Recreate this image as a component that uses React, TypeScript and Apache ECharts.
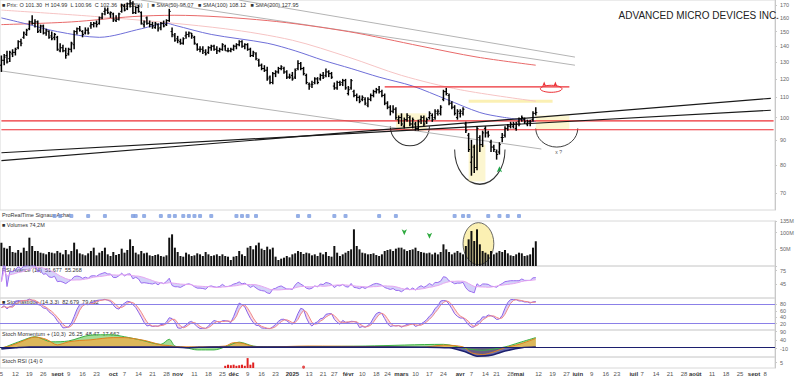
import { useEffect, useRef } from "react";
import * as echarts from "echarts";

// ---------- calendar ----------
const START_DATE = "2024-08-05";
const CATEGORY_COUNT = 277;
const HOLIDAYS = ["2024-09-02", "2024-11-28", "2024-12-25", "2025-01-01", "2025-01-09", "2025-01-20", "2025-02-17", "2025-04-18", "2025-05-26", "2025-06-19", "2025-07-04", "2025-09-01"];
const MONTH_LABELS = ["janv", "févr", "mars", "avr", "mai", "juin", "juil", "août", "sept", "oct", "nov", "déc"];

// ---------- price data: [open, high, low, close] ----------
const ohlc: number[][] = [
  [128, 134, 124, 131], [131, 135, 128, 133], [134, 137, 129, 130], [132, 137, 130, 136], [135, 138, 133, 136],
  [136, 139, 134, 138], [139, 144, 138, 143], [143, 145, 140, 142], [146, 150, 145, 149], [148, 152, 147, 151],
  [152, 158, 151, 157], [157, 162, 155, 156], [156, 159, 153, 157], [157, 158, 149, 150], [151, 155, 149, 154],
  [154, 155, 148, 149], [149, 152, 147, 151], [150, 151, 145, 146], [147, 150, 144, 145], [146, 149, 144, 148],
  [146, 147, 137, 138], [137, 142, 136, 139], [139, 141, 136, 137], [137, 139, 132, 134], [135, 139, 134, 138],
  [138, 143, 136, 142], [141, 151, 138, 150], [150, 153, 148, 152], [152, 154, 150, 151], [150, 151, 146, 148],
  [149, 153, 148, 151], [151, 153, 148, 149], [154, 157, 152, 155], [155, 157, 153, 156], [156, 158, 153, 155],
  [156, 161, 155, 160], [160, 164, 159, 163], [165, 168, 162, 166], [166, 168, 163, 164], [163, 165, 160, 164],
  [163, 164, 157, 159], [158, 162, 157, 159], [159, 164, 158, 163], [165, 171, 164, 170], [169, 171, 165, 166],
  [167, 172, 166, 171], [171, 174, 168, 172], [171, 173, 163, 164], [164, 169, 163, 168], [168, 170, 164, 165],
  [164, 165, 155, 156], [155, 158, 153, 157], [160, 161, 155, 156], [156, 158, 153, 155], [155, 157, 152, 154],
  [153, 157, 152, 156], [155, 156, 150, 152], [153, 157, 151, 156], [156, 158, 153, 154], [155, 159, 154, 158],
  [158, 167, 157, 165], [150, 153, 146, 148], [147, 149, 143, 144],
  [145, 147, 142, 144], [143, 145, 141, 142], [142, 146, 141, 145], [147, 150, 145, 148], [148, 150, 146, 149],
  [149, 149, 145, 147], [146, 147, 141, 142], [141, 142, 137, 138], [138, 140, 136, 138], [138, 140, 135, 137],
  [136, 138, 134, 135], [136, 140, 135, 139], [139, 141, 137, 140], [140, 141, 137, 138], [138, 140, 135, 137],
  [137, 139, 136, 138], [138, 142, 137, 141], [140, 141, 137, 137], [137, 139, 136, 137], [137, 139, 136, 138],
  [138, 141, 137, 140], [140, 142, 138, 141], [141, 144, 140, 143], [143, 144, 139, 140], [140, 142, 138, 141],
  [141, 142, 137, 138], [138, 139, 133, 134], [134, 137, 133, 136], [135, 136, 131, 132], [131, 132, 127, 128],
  [128, 129, 125, 126], [126, 128, 124, 125], [125, 127, 119, 120], [121, 122, 117, 118], [118, 124, 117, 123],
  [123, 125, 121, 124], [124, 127, 123, 126], [126, 128, 125, 127], [126, 127, 123, 124], [124, 125, 120, 121],
  [121, 123, 120, 121],
  [122, 124, 119, 120], [121, 126, 120, 125], [126, 131, 125, 129], [129, 130, 125, 126], [126, 127, 122, 123],
  [122, 123, 117, 118], [117, 118, 114, 116], [117, 119, 115, 117], [118, 121, 117, 120], [120, 121, 117, 118],
  [120, 123, 119, 122], [122, 124, 120, 121], [122, 126, 121, 124], [124, 125, 121, 123], [123, 124, 120, 121],
  [116, 118, 114, 115], [115, 119, 114, 118], [118, 119, 116, 117], [118, 120, 116, 119], [119, 120, 114, 115],
  [112, 116, 111, 114], [115, 120, 114, 119], [113, 114, 110, 111], [111, 112, 108, 110], [110, 111, 107, 108],
  [109, 111, 108, 110], [109, 110, 106, 107], [106, 110, 105, 109], [109, 112, 108, 111], [111, 114, 110, 113],
  [113, 115, 112, 114], [114, 116, 112, 113], [113, 114, 110, 111], [111, 112, 106, 107], [107, 108, 104, 105],
  [105, 106, 101, 103], [103, 106, 102, 104], [104, 105, 99, 100], [99, 101, 97, 100],
  [100, 102, 96, 97], [96, 100, 95, 99], [99, 102, 98, 101], [100, 101, 96, 97], [97, 100, 95, 99],
  [97, 98, 94, 95], [95, 99, 94, 98], [99, 101, 97, 100], [100, 101, 96, 97], [98, 100, 97, 99],
  [100, 103, 99, 102], [101, 102, 98, 99], [100, 104, 99, 103], [102, 104, 101, 103], [102, 106, 101, 105],
  [109, 114, 108, 113], [113, 115, 111, 112], [111, 112, 106, 107], [107, 108, 104, 105], [105, 106, 101, 102],
  [100, 104, 99, 103],
  [102, 104, 100, 103], [102, 105, 101, 104], [97, 98, 93, 94], [92, 93, 85, 86], [81, 90, 76, 83],
  [87, 88, 77, 79], [79, 96, 78, 95], [91, 92, 85, 88], [88, 94, 87, 93], [95, 96, 91, 93],
  [93, 94, 91, 92], [89, 90, 85, 87], [87, 88, 85, 86], [85, 86, 82, 84], [85, 89, 84, 88],
  [91, 93, 89, 91], [92, 96, 91, 95], [95, 97, 94, 96], [96, 98, 95, 97], [96, 98, 95, 97],
  [95, 98, 94, 97],
  [98, 100, 96, 97], [99, 101, 98, 100], [99, 100, 97, 98], [97, 99, 96, 98], [98, 99, 96, 98],
  [99, 103, 98, 102], [102, 105, 101, 102.36],
];

// volume, millions
const volumes: number[] = [
  70, 55, 52, 60, 42, 40, 48, 40, 55, 45, 85, 60, 45, 45, 40, 38, 35, 42, 40, 38,
  45, 40, 35, 48, 35, 45, 70, 50, 38, 35, 32, 38, 45, 55, 32, 40, 45, 55, 35, 30,
  42, 33, 36, 52, 40, 48, 80, 60, 40, 35, 45, 38, 40, 32, 30, 33, 35, 30, 28, 32, 85, 95, 55,
  42, 30, 28, 40, 35, 30, 32, 38, 35, 30, 42, 35, 30, 32, 35, 30, 35, 30, 28, 18,
  28, 30, 45, 35, 30, 55, 60, 50, 62, 70, 52, 48, 58, 50, 55, 28, 18, 22, 25, 30, 26,
  35, 38, 45, 42, 36, 40, 38, 32, 35, 30, 40, 35, 42, 30, 28, 60, 40, 30, 35, 40,
  45, 50, 110, 60, 50, 40, 38, 35, 36, 38, 33, 30, 35, 45, 48, 50, 45, 52, 55,
  55, 50, 45, 48, 50, 55, 45, 42, 40, 38, 40, 35, 40, 35, 42, 65, 50, 42, 35, 40, 45,
  40, 35, 60, 80, 105, 75, 110, 65, 45, 40, 35, 45, 35, 40, 45, 42, 48, 38, 32, 30, 35,
  40, 38, 30, 32, 35, 55, 74.2,
];

// moving averages: [category index, value]
const sma50: number[][] = [[0, 160], [8, 156], [20, 150], [35, 146], [50, 152], [59, 156], [62, 154.5], [75, 148], [95, 142], [105, 137], [115, 131], [125, 126], [135, 121], [147, 116], [159, 109], [171, 102.4], [179, 100.2], [191, 98.1]];
const sma100: number[][] = [[0, 166], [40, 160], [80, 152], [104, 144], [124, 133], [143, 122], [164, 114], [191, 108]];
const sma200: number[][] = [[0, 155], [25, 157], [47, 161], [62, 162], [95, 158], [124, 150], [150, 140], [170, 133], [191, 128]];

// drawn lines / zones on price: [[i0, p0], [i1, p1]]
const trendBlack: number[][][] = [[[0, 81.6], [275, 109.5]], [[0, 84.7], [275, 103.5]]];
const trendGray: number[][][] = [[[0, 124.6], [193, 86.2]], [[50, 174], [205, 128]], [[85, 174], [205, 133]]];
const supportLevels = [98.4, 94.4];
const resistanceSeg = { i0: 137, i1: 203, p: 115.6 };
const zones: number[][][] = [[[141, 102], [152, 94]], [[167, 88], [173, 74]], [[191, 101], [203, 94.5]]];
const yellowBand = { i0: 167, i1: 197, p: 108 };
const cups = [
  { i0: 139, i1: 153, top: 96, bottom: 87.5 },
  { i0: 162, i1: 180, top: 86, bottom: 73 },
  { i0: 191, i1: 206, top: 95, bottom: 87 },
];

// panel 3 oscillator samples and panel 4 bars
const oscOrange: number[][] = [[0, -5], [3, 5], [7, 30], [12, 58], [16, 45], [20, 12], [24, 30], [28, 38], [32, 42], [36, 50], [40, 55], [44, 55], [47, 50], [52, 35], [57, 12], [60, 8], [62, 2], [70, 0], [80, 5], [83, 25], [86, 22], [90, 3], [95, 0], [110, 5], [130, 2], [150, -3], [158, 10], [165, 0], [168, -35], [172, -45], [176, -30], [180, -5], [185, 15], [191, 50]];
const oscGreen: number[][] = [[0, -10], [7, 35], [12, 60], [18, 30], [24, 35], [32, 70], [39, 72], [44, 60], [50, 40], [57, 15], [60, 45], [62, 5], [66, -5], [70, -18], [76, -18], [80, 0], [85, 28], [90, 5], [95, 0], [130, 5], [158, 15], [166, -10], [172, -20], [180, 0], [185, 25], [191, 55]];
const oscNavy: number[][] = [[0, -12], [5, -5], [10, 0], [60, 0], [66, -5], [75, 0], [140, 0], [160, -5], [166, -30], [170, -55], [175, -50], [180, -25], [186, -5], [191, 0]];
const panel4: number[][] = [[80, 2], [81, 3], [82, 2.5], [83, 3], [84, 2], [85, 2.5], [86, 3], [87, 2], [88, 9], [89, 3], [90, 5]];
const panel4Dots: number[][] = [[108, 0.8]];

const markers = [19, 21, 25, 31, 37, 47, 48, 51, 57, 60, 62, 65, 67, 69, 71, 75, 84, 86, 88, 91, 106, 110, 119, 123, 135, 141, 162, 165, 167, 174, 178, 181, 185];
const volumeArrows: number[][] = [[144, 92], [153, 82]];
const volumeHighlight = { i0: 165, i1: 176, top: 130, bottom: 4 };

const PRICE_TICKS = [70, 80, 90, 100, 110, 120, 130, 140, 150, 160, 170];
const L = Math.log;

function tradingDays(): string[] {
  const out: string[] = [];
  const d = new Date(START_DATE + "T12:00:00Z");
  while (out.length < CATEGORY_COUNT) {
    const wd = d.getUTCDay();
    const s = d.toISOString().slice(0, 10);
    if (wd !== 0 && wd !== 6 && HOLIDAYS.indexOf(s) < 0) out.push(s);
    d.setUTCDate(d.getUTCDate() + 1);
  }
  return out;
}

function sma(arr: number[], n: number): number[] {
  return arr.map((_, i) => {
    const s = Math.max(0, i - n + 1);
    let t = 0;
    for (let k = s; k <= i; k++) t += arr[k];
    return t / (i - s + 1);
  });
}

export default function App() {
  const ref = useRef<HTMLDivElement>(null);
  useEffect(() => {
    document.body.style.margin = "0";
    const chart = echarts.init(ref.current!, undefined, { renderer: "svg" });
    const dates = tradingDays();
    const labels: string[] = dates.map(() => "");
    const monthIdx: number[] = [];
    dates.forEach((s, i) => {
      if (i > 0 && s.slice(5, 7) !== dates[i - 1].slice(5, 7)) {
        const m = Number(s.slice(5, 7));
        labels[i] = m === 1 ? "{b|" + s.slice(0, 4) + "}" : "{b|" + MONTH_LABELS[m - 1] + "}";
        monthIdx.push(i);
      }
    });
    dates.forEach((s, i) => {
      if (labels[i]) return;
      const wd = new Date(s + "T12:00:00Z").getUTCDay();
      const pwd = i > 0 ? new Date(dates[i - 1] + "T12:00:00Z").getUTCDay() : 7;
      if (wd < pwd && !monthIdx.some((m) => Math.abs(m - i) < 3)) labels[i] = String(Number(s.slice(8, 10)));
    });

    const closes = ohlc.map((d) => d[3]);
    const highs = ohlc.map((d) => d[1]);
    const lows = ohlc.map((d) => d[2]);
    const rawK = closes.map((c, i) => {
      const s = Math.max(0, i - 13);
      const hh = Math.max(...highs.slice(s, i + 1));
      const ll = Math.min(...lows.slice(s, i + 1));
      return hh === ll ? 50 : ((c - ll) / (hh - ll)) * 100;
    });
    const stK = sma(rawK, 3);
    const stD = sma(stK, 3);
    const rsi: number[] = [];
    let ag = 0, al = 0;
    closes.forEach((c, i) => {
      if (i === 0) { rsi.push(50); return; }
      const ch = c - closes[i - 1];
      const g = Math.max(ch, 0), l = Math.max(-ch, 0);
      if (i <= 14) { ag = (ag * (i - 1) + g) / i; al = (al * (i - 1) + l) / i; }
      else { ag = (ag * 13 + g) / 14; al = (al * 13 + l) / 14; }
      rsi.push(al === 0 ? 100 : 100 - 100 / (1 + ag / al));
    });
    const rsiSig = sma(rsi, 9);

    const W = 775;
    const grids = [
      { top: 0, height: 210 },
      { top: 212, height: 8 },
      { top: 221, height: 45 },
      { top: 266, height: 32 },
      { top: 298, height: 32 },
      { top: 330, height: 27 },
      { top: 357, height: 11 },
    ].map((g, i) => ({
      left: 0, width: W, top: g.top, height: g.height, show: i !== 1, borderColor: "#d8d8d8", borderWidth: 1, outerBoundsMode: "none",
    }));
    const xAxes = grids.map((_, i) => ({
      type: "category", gridIndex: i, data: dates, boundaryGap: true,
      axisLine: { show: false }, axisTick: { show: false },
      axisLabel: i === 6 ? {
        show: true, interval: (idx: number) => labels[idx] !== "", formatter: (_v: string, idx: number) => labels[idx],
        fontSize: 6, color: "#555", margin: 3, fontFamily: "Liberation Sans",
        rich: { b: { fontWeight: "bold", fontSize: 6, color: "#333", fontFamily: "Liberation Sans" } },
      } : { show: false },
      splitLine: { show: false },
    }));
    const axisBase = {
      position: "right", splitLine: { show: false },
      axisLine: { show: true, lineStyle: { color: "#c8c8c8" } },
      axisTick: { show: true, length: 2, lineStyle: { color: "#c8c8c8" } },
      axisLabel: { fontSize: 5.5, color: "#666", margin: 5, fontFamily: "Liberation Sans" },
    };
    const yAxes: any[] = [
      {
        ...axisBase, type: "value", gridIndex: 0, min: L(64.65), max: L(174.1),
        axisLabel: { ...axisBase.axisLabel, customValues: PRICE_TICKS.map(L), formatter: (v: number) => String(Math.round(Math.exp(v))) },
        axisTick: { ...axisBase.axisTick, customValues: PRICE_TICKS.map(L) },
      },
      { type: "value", gridIndex: 1, min: 0, max: 1, show: false },
      { ...axisBase, type: "value", gridIndex: 2, min: 0, max: 135, interval: 50, axisLabel: { ...axisBase.axisLabel, formatter: (v: number) => (v === 0 ? "" : v + "M") } },
      { ...axisBase, type: "value", gridIndex: 3, min: 15, max: 85, interval: 30, axisLabel: { ...axisBase.axisLabel, showMinLabel: false, showMaxLabel: false } },
      { ...axisBase, type: "value", gridIndex: 4, min: 0, max: 100, interval: 20, axisLabel: { ...axisBase.axisLabel, showMinLabel: false, showMaxLabel: false } },
      { ...axisBase, type: "value", gridIndex: 5, min: -60, max: 100, interval: 50, axisLabel: { ...axisBase.axisLabel, showMinLabel: false } },
      { ...axisBase, type: "value", gridIndex: 6, min: 0, max: 10, interval: 5, axisLabel: { ...axisBase.axisLabel, showMinLabel: false, showMaxLabel: false } },
    ];

    const lnPair = (a: number[][]) => a.map(([i, v]) => [i, L(v)]);
    const lastClose = closes[closes.length - 1];
    const tag = (v: number, text: string, bg: string, color: string, off = 0) => ({
      yAxis: L(v), lineStyle: { opacity: 0 },
      label: { show: true, position: "end", formatter: text, backgroundColor: bg, color, fontSize: 5.5, padding: [1, 2], distance: 2, offset: [0, off], fontFamily: "Liberation Sans" },
    });
    const RED = "#ec2f35";
    const segLine = (name: string, pts: number[][], color: string, width: number, z = 4) => ({
      name, type: "line", xAxisIndex: 0, yAxisIndex: 0, data: lnPair(pts), symbol: "none", silent: true,
      lineStyle: { color, width, type: "solid" }, itemStyle: { color }, z,
    });

    const series: any[] = [
      {
        name: "Prix", type: "custom", xAxisIndex: 0, yAxisIndex: 0,
        data: ohlc.map((d, i) => [i, L(d[0]), L(d[1]), L(d[2]), L(d[3])]),
        encode: { x: 0, y: [1, 2, 3, 4] },
        renderItem: (_p: any, api: any) => {
          const i = api.value(0);
          const pH = api.coord([i, api.value(2)]);
          const pL = api.coord([i, api.value(3)]);
          const pO = api.coord([i, api.value(1)]);
          const pC = api.coord([i, api.value(4)]);
          const x = pH[0];
          const st = { stroke: "#000", lineWidth: 1.5 };
          return {
            type: "group", children: [
              { type: "line", shape: { x1: x, y1: pH[1], x2: x, y2: pL[1] }, style: st },
              { type: "line", shape: { x1: x - 1.5, y1: pO[1], x2: x, y2: pO[1] }, style: { stroke: "#000", lineWidth: 1 } },
              { type: "line", shape: { x1: x, y1: pC[1], x2: x + 1.5, y2: pC[1] }, style: { stroke: "#000", lineWidth: 1 } },
            ],
          };
        },
        z: 6,
      },
      ...supportLevels.map((p, k) => segLine("support" + k, [[0, p], [CATEGORY_COUNT - 1, p]], RED, 1.2)),
      segLine("resistance", [[resistanceSeg.i0, resistanceSeg.p], [resistanceSeg.i1, resistanceSeg.p]], RED, 1.2),
      segLine("band", [[yellowBand.i0, yellowBand.p], [yellowBand.i1, yellowBand.p]], "#fbf0b4", 3, 1),
      ...trendBlack.map((t, k) => segLine("black" + k, t, "#1a1a1a", 1.2, 5)),
      ...trendGray.map((t, k) => segLine("gray" + k, t, "#b4b4b4", 1, 2)),
      {
        name: "SMA50", type: "line", xAxisIndex: 0, yAxisIndex: 0, data: lnPair(sma50), symbol: "none", smooth: 0.3,
        lineStyle: { color: "#6f6fd8", width: 1 }, z: 3,
        markLine: {
          symbol: "none", silent: true, animation: false,
          data: [
            tag(sma200[sma200.length - 1][1], "127.95", "#fde4e4", "#e05050", 2),
            tag(sma100[sma100.length - 1][1], "108.12", "#fde4e4", "#e05050", 2),
            tag(lastClose, lastClose.toFixed(2), "#ffe11a", "#000", -4),
            tag(sma50[sma50.length - 1][1], "98.07", "#e6e6fa", "#3a3ad0", 4),
          ],
        },
        markArea: {
          silent: true,
          itemStyle: { color: "rgba(250,238,170,0.55)" },
          data: zones.map((z) => [{ coord: [z[0][0], L(z[0][1])] }, { coord: [z[1][0], L(z[1][1])] }]),
        },
        markPoint: {
          silent: true,
          data: [
            { coord: [178, L(79.5)], symbol: "arrow", symbolSize: [4, 6], itemStyle: { color: "#22a34a" }, label: { show: false } },
            { coord: [194, L(118.5)], symbol: "arrow", symbolSize: [3, 5], itemStyle: { color: RED }, label: { show: false } },
            { coord: [198, L(118.5)], symbol: "arrow", symbolSize: [3, 5], itemStyle: { color: RED }, label: { show: false } },
          ],
        },
      },
      { name: "SMA100", type: "line", xAxisIndex: 0, yAxisIndex: 0, data: lnPair(sma100), symbol: "none", smooth: 0.3, lineStyle: { color: "#f6c4c4", width: 1 }, z: 2 },
      { name: "SMA200", type: "line", xAxisIndex: 0, yAxisIndex: 0, data: lnPair(sma200), symbol: "none", smooth: 0.3, lineStyle: { color: "#e86a6a", width: 1 }, z: 2 },
      {
        name: "signals", type: "scatter", xAxisIndex: 1, yAxisIndex: 1, data: markers.map((i) => [i, 0.5]),
        symbol: "roundRect", symbolSize: 4, itemStyle: { color: "#7b9be0" },
      },
      {
        name: "Volumes", type: "bar", xAxisIndex: 2, yAxisIndex: 2, data: volumes, barWidth: 2, itemStyle: { color: "#111" }, z: 3,
        markPoint: {
          silent: true,
          data: volumeArrows.map(([i, v]) => ({ coord: [i, v], symbol: "arrow", symbolRotate: 180, symbolSize: [4, 6], itemStyle: { color: "#2faa3f" }, label: { show: false } })),
        },
      },
      { name: "rsiBase", type: "line", xAxisIndex: 3, yAxisIndex: 3, data: rsiSig, stack: "rsi", stackStrategy: "all", symbol: "none", lineStyle: { opacity: 0 } },
      { name: "rsiFill", type: "line", xAxisIndex: 3, yAxisIndex: 3, data: rsi.map((v, i) => v - rsiSig[i]), stack: "rsi", stackStrategy: "all", symbol: "none", lineStyle: { opacity: 0 }, areaStyle: { color: "rgba(120,110,235,0.45)" } },
      { name: "RSI", type: "line", xAxisIndex: 3, yAxisIndex: 3, data: rsi, symbol: "none", lineStyle: { color: "#9a6cf0", width: 1 } },
      { name: "RSIsig", type: "line", xAxisIndex: 3, yAxisIndex: 3, data: rsiSig, symbol: "none", lineStyle: { color: "#e6a6f0", width: 1 } },
      { name: "stBaseUp", type: "line", xAxisIndex: 4, yAxisIndex: 4, data: stD, stack: "stUp", stackStrategy: "all", symbol: "none", lineStyle: { opacity: 0 } },
      { name: "stUp", type: "line", xAxisIndex: 4, yAxisIndex: 4, data: stK.map((v, i) => Math.max(v - stD[i], 0)), stack: "stUp", stackStrategy: "all", symbol: "none", lineStyle: { opacity: 0 }, areaStyle: { color: "rgba(130,100,235,0.45)" } },
      { name: "stBaseDn", type: "line", xAxisIndex: 4, yAxisIndex: 4, data: stD, stack: "stDn", stackStrategy: "all", symbol: "none", lineStyle: { opacity: 0 } },
      { name: "stDn", type: "line", xAxisIndex: 4, yAxisIndex: 4, data: stK.map((v, i) => Math.min(v - stD[i], 0)), stack: "stDn", stackStrategy: "all", symbol: "none", lineStyle: { opacity: 0 }, areaStyle: { color: "rgba(240,130,150,0.4)" } },
      {
        name: "K", type: "line", xAxisIndex: 4, yAxisIndex: 4, data: stK, symbol: "none", lineStyle: { color: "#8a63e8", width: 1 },
        markLine: { symbol: "none", silent: true, label: { show: false }, lineStyle: { color: "#8b80e8", width: 1, type: "solid" }, data: [{ yAxis: 80 }, { yAxis: 20 }] },
      },
      { name: "D", type: "line", xAxisIndex: 4, yAxisIndex: 4, data: stD, symbol: "none", lineStyle: { color: "#f08a8a", width: 1 } },
      { name: "green", type: "line", xAxisIndex: 5, yAxisIndex: 5, data: oscGreen, symbol: "none", smooth: 0.3, lineStyle: { color: "#3cb043", width: 1 }, areaStyle: { color: "#7ccf6a" } },
      { name: "orange", type: "line", xAxisIndex: 5, yAxisIndex: 5, data: oscOrange, symbol: "none", smooth: 0.3, lineStyle: { color: "#e08020", width: 1 }, areaStyle: { color: "#f4a640" } },
      {
        name: "navy", type: "line", xAxisIndex: 5, yAxisIndex: 5, data: oscNavy, symbol: "none", smooth: 0.3, lineStyle: { color: "#1c1f6e", width: 1.5 }, areaStyle: { color: "#2a2f8a" },
        markLine: { symbol: "none", silent: true, label: { show: false }, lineStyle: { color: "#1c1f6e", width: 1, type: "solid" }, data: [{ yAxis: 0 }] },
      },
      { name: "p4", type: "bar", xAxisIndex: 6, yAxisIndex: 6, data: panel4, barWidth: 2, itemStyle: { color: "#e02020" } },
      { name: "p4dot", type: "scatter", xAxisIndex: 6, yAxisIndex: 6, data: panel4Dots, symbolSize: 3, itemStyle: { color: "#e02020" } },
    ];

    const small = { fontSize: 5.5, fontFamily: "Liberation Sans", fill: "#333" };
    chart.setOption({
      animation: false,
      title: {
        text: "ADVANCED MICRO DEVICES INC.", right: 16, top: 5,
        textStyle: { fontSize: 10, fontWeight: "normal", color: "#222", fontFamily: "Liberation Sans" },
      },
      grid: grids, xAxis: xAxes, yAxis: yAxes, series,
    });

    const px = (i: number, p: number) => chart.convertToPixel({ gridIndex: 0 }, [i, L(p)]) as number[];
    const arcs = cups.map((c) => {
      const a = px(c.i0, c.top);
      const b = px(c.i1, c.top);
      const m = px((c.i0 + c.i1) / 2, c.bottom);
      const rx = (b[0] - a[0]) / 2;
      const ry = m[1] - a[1];
      return {
        type: "arc", x: (a[0] + b[0]) / 2, y: a[1], scaleY: ry / rx, silent: true,
        shape: { cx: 0, cy: 0, r: rx, startAngle: 0, endAngle: Math.PI }, style: { stroke: "#333", fill: "none", lineWidth: 1 },
      };
    });
    const e0 = px(193, 115.6), e1 = px(200, 115.6);
    const q = px(198, 86);
    const v0 = chart.convertToPixel({ gridIndex: 2 }, [volumeHighlight.i0, volumeHighlight.top]) as number[];
    const v1 = chart.convertToPixel({ gridIndex: 2 }, [volumeHighlight.i1, volumeHighlight.bottom]) as number[];
    chart.setOption({
      graphic: [
        {
          type: "ellipse", silent: true, z: -1,
          shape: { cx: (v0[0] + v1[0]) / 2, cy: (v0[1] + v1[1]) / 2, rx: (v1[0] - v0[0]) / 2, ry: (v1[1] - v0[1]) / 2 },
          style: { fill: "rgba(250,236,160,0.8)", stroke: "#444", lineWidth: 0.8 },
        },
        ...arcs,
        { type: "ellipse", silent: true, shape: { cx: (e0[0] + e1[0]) / 2, cy: e0[1] + 2, rx: (e1[0] - e0[0]) / 2 + 1, ry: 3.5 }, style: { stroke: RED, fill: "none", lineWidth: 1 } },
        { type: "text", x: q[0], y: q[1], silent: true, style: { fontSize: 5, fontFamily: "Liberation Sans", fill: "#555", text: "x ?" } },
        { type: "text", left: 2, top: 2, style: { ...small, text: "■ Prix: O 101.30  H 104.99  L 100.96  C 102.36  (+1.53%)   |  ■ SMA(50) 98.07   ■ SMA(100) 108.12   ■ SMA(200) 127.95" } },
        { type: "text", left: 2, top: 212, style: { ...small, text: "ProRealTime Signaux Achat" } },
        { type: "text", left: 2, top: 222, style: { ...small, text: "■ Volumes 74,2M" } },
        { type: "text", left: 2, top: 267, style: { ...small, text: "RSI Avancé (14)  51.677  55.268" } },
        { type: "text", left: 2, top: 299, style: { ...small, text: "■ Stochastique (14,3,3)  82.679  79.432" } },
        { type: "text", left: 2, top: 331, style: { ...small, text: "Stoch Momentum + (10,3)  26.25  48.47  17.662" } },
        { type: "text", left: 2, top: 358, style: { ...small, text: "Stoch RSI (14) 0" } },
      ],
    });
    return () => chart.dispose();
  }, []);
  return <div ref={ref} style={{ width: 800, height: 376 }} />;
}
